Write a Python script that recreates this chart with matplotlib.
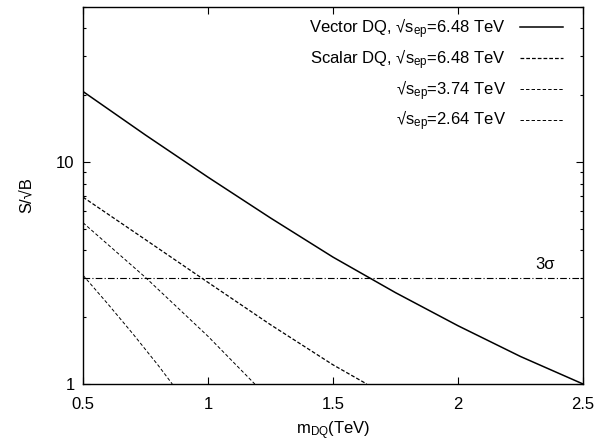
import matplotlib
matplotlib.use('Agg')
import matplotlib.pyplot as plt
from matplotlib.ticker import LogLocator, NullFormatter, FixedLocator

plt.rcParams['font.family'] = ['Liberation Sans', 'DejaVu Sans']
plt.rcParams['mathtext.default'] = 'regular'
plt.rcParams['font.size'] = 12

# DATA
vector_m = [0.5, 0.75, 1.0, 1.25, 1.5, 1.75, 2.0, 2.25, 2.5]
vector_s = [20.8, 13.24, 8.55, 5.60, 3.73, 2.58, 1.83, 1.33, 1.0]

scalar_648_m = [0.5, 0.75, 1.0, 1.25, 1.5, 1.635]
scalar_648_s = [6.95, 4.47, 2.87, 1.85, 1.22, 1.0]

scalar_374_m = [0.5, 0.75, 1.0, 1.187]
scalar_374_s = [5.33, 3.02, 1.64, 1.0]

scalar_264_m = [0.5, 0.6, 0.7, 0.8, 0.857]
scalar_264_s = [3.09, 2.29, 1.68, 1.216, 1.0]

sigma_level = 3.0

fig = plt.figure(figsize=(5.99, 4.45), dpi=100)
ax = fig.add_axes([0.1386, 0.1371, 0.8347, 0.8472])

ax.plot(vector_m, vector_s, color='black', lw=1.1,
        label='Vector DQ, √s$_{ep}$=6.48 TeV')
ax.plot(scalar_648_m, scalar_648_s, color='black', lw=0.9, dashes=(3.0, 1.6),
        label='Scalar DQ, √s$_{ep}$=6.48 TeV')
ax.plot(scalar_374_m, scalar_374_s, color='black', lw=0.7, dashes=(3.5, 2.2),
        label='√s$_{ep}$=3.74 TeV')
ax.plot(scalar_264_m, scalar_264_s, color='black', lw=0.7, dashes=(3.5, 2.2),
        label='√s$_{ep}$=2.64 TeV')
ax.axhline(sigma_level, color='black', lw=0.8, dashes=(6, 2, 1, 2))
ax.text(2.35, 3.2, '3σ', ha='center', va='bottom')

ax.set_yscale('log')
ax.set_xlim(0.5, 2.5)
ax.set_ylim(1, 50)
ax.xaxis.set_major_locator(FixedLocator([0.5, 1, 1.5, 2, 2.5]))
ax.set_xticklabels(['0.5', '1', '1.5', '2', '2.5'])
ax.yaxis.set_major_locator(FixedLocator([1, 10]))
ax.set_yticklabels(['1', '10'])
ax.yaxis.set_minor_locator(LogLocator(base=10, subs=range(2, 10)))
ax.yaxis.set_minor_formatter(NullFormatter())
ax.tick_params(which='both', direction='in', top=True, right=True, width=0.8)
ax.tick_params(which='major', length=5)
ax.tick_params(axis='x', which='major', pad=9.5)
ax.tick_params(axis='y', which='major', pad=6)
ax.tick_params(which='minor', length=2.5)
for sp in ax.spines.values():
    sp.set_linewidth(1.0)

ax.set_xlabel('m$_{DQ}$(TeV)', labelpad=5)
ax.set_ylabel('S/√B', labelpad=16)

ax.legend(loc='upper right', bbox_to_anchor=(0.96, 0.975), frameon=False,
          markerfirst=False, handlelength=2.6, handletextpad=0.8,
          labelspacing=0.37, borderaxespad=0, borderpad=0)

fig.savefig('out.png', dpi=100)
